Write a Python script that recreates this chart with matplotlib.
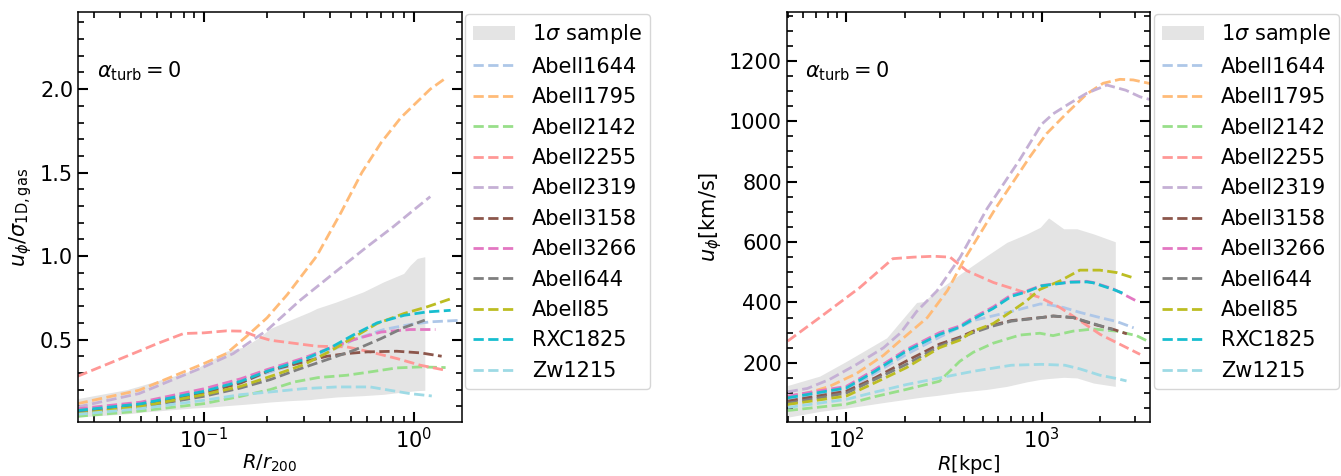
import matplotlib
matplotlib.use("Agg")
import matplotlib.pyplot as plt
from matplotlib.ticker import MultipleLocator

names = ["Abell1644", "Abell1795", "Abell2142", "Abell2255", "Abell2319",
         "Abell3158", "Abell3266", "Abell644", "Abell85", "RXC1825", "Zw1215"]
colors = ["#aec7e8", "#ffbb78", "#98df8a", "#ff9896", "#c5b0d5",
          "#8c564b", "#e377c2", "#7f7f7f", "#bcbd22", "#17becf", "#9edae5"]

# ---------------- left panel: u_phi / sigma_1D,gas vs R/r200 ----------------
a1644_lx = [0.025, 0.05, 0.1, 0.15, 0.2, 0.3, 0.4, 0.52, 0.72, 0.96, 1.2, 1.72]
a1644_ly = [0.072, 0.11, 0.185, 0.245, 0.30, 0.37, 0.43, 0.50, 0.56, 0.59, 0.606, 0.616]
a1795_lx = [0.025, 0.049, 0.1, 0.128, 0.16, 0.2, 0.25, 0.345, 0.45, 0.566, 0.7, 0.87, 1.2, 1.4]
a1795_ly = [0.116, 0.196, 0.356, 0.416, 0.52, 0.63, 0.77, 1.0, 1.26, 1.5, 1.68, 1.83, 2.0, 2.06]
a2142_lx = [0.025, 0.05, 0.1, 0.15, 0.207, 0.27, 0.35, 0.48, 0.62, 0.83, 1.08, 1.42]
a2142_ly = [0.04, 0.072, 0.116, 0.16, 0.2, 0.246, 0.272, 0.286, 0.306, 0.33, 0.336, 0.332]
a2255_lx = [0.025, 0.046, 0.06, 0.08, 0.1, 0.128, 0.154, 0.172, 0.207, 0.345, 0.48, 0.62, 0.833, 1.077, 1.42]
a2255_ly = [0.28, 0.416, 0.476, 0.536, 0.54, 0.552, 0.55, 0.526, 0.496, 0.46, 0.456, 0.426, 0.386, 0.346, 0.316]
a2319_lx = [0.025, 0.049, 0.1, 0.138, 0.2, 0.288, 0.415, 0.6, 0.8, 1.0, 1.2]
a2319_ly = [0.096, 0.176, 0.336, 0.416, 0.556, 0.736, 0.896, 1.056, 1.176, 1.276, 1.356]
a3158_lx = [0.025, 0.05, 0.1, 0.15, 0.207, 0.3, 0.386, 0.48, 0.6, 0.83, 1.08, 1.36]
a3158_ly = [0.066, 0.105, 0.18, 0.24, 0.316, 0.366, 0.40, 0.416, 0.426, 0.43, 0.42, 0.40]
a3266_lx = [0.025, 0.05, 0.1, 0.15, 0.2, 0.3, 0.4, 0.52, 0.7, 0.96, 1.27]
a3266_ly = [0.085, 0.125, 0.205, 0.265, 0.32, 0.39, 0.45, 0.50, 0.545, 0.56, 0.56]
a644_lx = [0.025, 0.05, 0.1, 0.15, 0.207, 0.28, 0.4, 0.52, 0.7, 0.9, 1.13]
a644_ly = [0.06, 0.095, 0.16, 0.21, 0.26, 0.32, 0.386, 0.436, 0.506, 0.572, 0.616]
a85_lx = [0.025, 0.05, 0.1, 0.15, 0.22, 0.3, 0.4, 0.52, 0.67, 0.9, 1.16, 1.55]
a85_ly = [0.055, 0.1, 0.17, 0.22, 0.29, 0.35, 0.43, 0.515, 0.596, 0.656, 0.696, 0.75]
rxc1825_lx = [0.025, 0.05, 0.1, 0.15, 0.2, 0.3, 0.4, 0.52, 0.67, 0.9, 1.15, 1.5]
rxc1825_ly = [0.075, 0.115, 0.19, 0.25, 0.31, 0.38, 0.45, 0.53, 0.60, 0.645, 0.665, 0.675]
zw1215_lx = [0.025, 0.05, 0.1, 0.15, 0.207, 0.3, 0.43, 0.62, 0.77, 0.96, 1.22]
zw1215_ly = [0.052, 0.086, 0.136, 0.17, 0.186, 0.206, 0.216, 0.216, 0.196, 0.176, 0.162]

band_lx = [0.025, 0.043, 0.052, 0.089, 0.108, 0.128, 0.156, 0.185, 0.207, 0.257, 0.32, 0.345,
           0.43, 0.576, 0.72, 0.896, 0.964, 1.04, 1.13]
band_l_hi = [0.146, 0.2, 0.23, 0.316, 0.376, 0.43, 0.456, 0.516, 0.566, 0.616, 0.666, 0.686,
             0.726, 0.786, 0.846, 0.896, 0.946, 0.986, 0.996]
band_l_lo = [0.036, 0.055, 0.066, 0.09, 0.096, 0.104, 0.112, 0.12, 0.126, 0.134, 0.14, 0.145,
             0.156, 0.164, 0.172, 0.186, 0.19, 0.194, 0.196]

# ---------------- right panel: u_phi [km/s] vs R [kpc] ----------------
a1644_rx = [50, 100, 140, 203, 300, 447, 700, 985, 1100, 1300, 1572, 1990, 2423, 2966]
a1644_ry = [78, 112, 165, 228, 285, 340, 370, 395, 392, 383, 367, 350, 337, 316]
a1795_rx = [50, 63, 82, 113, 155, 190, 260, 330, 400, 587, 871, 1061, 1343, 1702, 2070, 2523, 2950, 3600]
a1795_ry = [88, 100, 122, 165, 225, 275, 350, 440, 540, 716, 882, 959, 1026, 1090, 1126, 1139, 1137, 1125]
a2142_rx = [50, 100, 140, 203, 300, 381, 447, 565, 775, 980, 1146, 1452, 1840, 2423, 3070, 3600]
a2142_ry = [42, 63, 88, 112, 139, 205, 235, 265, 292, 298, 290, 305, 312, 305, 290, 268]
a2255_rx = [50, 73, 117, 173, 220, 280, 340, 414, 567, 777, 985, 1245, 1578, 2000, 2530, 3200]
a2255_ry = [272, 350, 449, 545, 550, 553, 550, 505, 466, 438, 416, 383, 339, 294, 261, 228]
a2319_rx = [50, 63, 82, 113, 155, 190, 229, 291, 383, 525, 777, 1000, 1148, 1400, 1706, 2163, 2700, 3200, 3600]
a2319_ry = [104, 115, 145, 195, 250, 300, 370, 438, 550, 710, 875, 990, 1025, 1060, 1093, 1120, 1103, 1081, 1072]
a3158_rx = [50, 100, 140, 203, 300, 381, 447, 565, 700, 1000, 1148, 1452, 1840, 2330, 2737]
a3158_ry = [73, 106, 150, 206, 262, 285, 305, 325, 340, 350, 355, 350, 328, 311, 296]
a3266_rx = [50, 100, 140, 203, 300, 381, 447, 565, 700, 837, 1000, 1400, 1706, 1840, 2330, 3020]
a3266_ry = [90, 122, 178, 244, 300, 322, 350, 385, 425, 438, 456, 468, 470, 466, 445, 407]
a644_rx = [50, 100, 140, 203, 300, 447, 565, 700, 1000, 1148, 1452, 1840, 2330]
a644_ry = [66, 100, 145, 195, 255, 300, 322, 338, 350, 355, 350, 330, 310]
a85_rx = [50, 100, 140, 203, 300, 381, 447, 565, 700, 837, 980, 1241, 1572, 1990, 2423, 3008]
a85_ry = [62, 90, 134, 184, 250, 275, 305, 330, 370, 405, 443, 471, 507, 507, 499, 480]
rxc1825_rx = [50, 100, 140, 203, 300, 381, 447, 565, 700, 837, 1000, 1400, 1706, 1840, 2330, 2630]
rxc1825_ry = [84, 117, 172, 239, 294, 318, 345, 380, 420, 435, 455, 467, 468, 465, 443, 430]
zw1215_rx = [50, 100, 140, 203, 300, 447, 700, 1000, 1318, 1572, 1990, 2426, 2726]
zw1215_ry = [52, 79, 103, 128, 150, 172, 192, 195, 192, 180, 159, 148, 140]

band_rx = [50, 73, 100, 161, 229, 248, 291, 383, 525, 664, 841, 985, 1087, 1298, 1518, 1848, 2388]
band_r_hi = [125, 156, 205, 283, 400, 403, 438, 494, 555, 599, 627, 649, 680, 644, 644, 627, 601]
band_r_lo = [20, 39, 50, 70, 84, 87, 92, 103, 112, 122, 137, 145, 148, 152, 150, 133, 122]

left_x = [a1644_lx, a1795_lx, a2142_lx, a2255_lx, a2319_lx, a3158_lx,
          a3266_lx, a644_lx, a85_lx, rxc1825_lx, zw1215_lx]
left_y = [a1644_ly, a1795_ly, a2142_ly, a2255_ly, a2319_ly, a3158_ly,
          a3266_ly, a644_ly, a85_ly, rxc1825_ly, zw1215_ly]
right_x = [a1644_rx, a1795_rx, a2142_rx, a2255_rx, a2319_rx, a3158_rx,
           a3266_rx, a644_rx, a85_rx, rxc1825_rx, zw1215_rx]
right_y = [a1644_ry, a1795_ry, a2142_ry, a2255_ry, a2319_ry, a3158_ry,
           a3266_ry, a644_ry, a85_ry, rxc1825_ry, zw1215_ry]

FS = 15
plt.rcParams['font.family'] = ['DejaVu Sans']
plt.rcParams['mathtext.fontset'] = 'dejavusans'

W, H = 1341, 476
fig = plt.figure(figsize=(W / 100, H / 100), dpi=100)
axL = fig.add_axes([78 / W, 1 - 422 / H, 384 / W, 410 / H])
axR = fig.add_axes([787 / W, 1 - 422 / H, 363 / W, 410 / H])

def style(ax):
    ax.set_xscale('log')
    ax.tick_params(which='both', direction='in', top=True, right=True, labelsize=FS)
    ax.tick_params(which='major', length=7, width=1.5)
    ax.tick_params(which='minor', length=4, width=1.2)
    for s in ax.spines.values():
        s.set_linewidth(1.1)

# left
axL.fill_between(band_lx, band_l_lo, band_l_hi, color='#e4e4e4', lw=0, label=r'1$\sigma$ sample')
for xs, ys, c, n in zip(left_x, left_y, colors, names):
    axL.plot(xs, ys, ls='--', color=c, lw=2, label=n)
style(axL)
axL.set_xlim(0.0251, 1.70)
axL.set_ylim(0.006, 2.462)
axL.yaxis.set_major_locator(MultipleLocator(0.5))
axL.yaxis.set_minor_locator(MultipleLocator(0.1))
axL.set_xlabel(r'$R/r_{200}$', fontsize=14, labelpad=0.5)
axL.set_ylabel(r'$u_{\phi}/\sigma_{\rm 1D,gas}$', fontsize=FS)
axL.text(0.05, 0.855, r'$\alpha_{\rm turb}=0$', transform=axL.transAxes, fontsize=FS,
         va='center', ha='left')
axL.legend(loc='upper left', bbox_to_anchor=(465 / W, 1 - 14 / H), bbox_transform=fig.transFigure,
           borderaxespad=0, fontsize=FS)

# right
axR.fill_between(band_rx, band_r_lo, band_r_hi, color='#e4e4e4', lw=0, label=r'1$\sigma$ sample')
for xs, ys, c, n in zip(right_x, right_y, colors, names):
    axR.plot(xs, ys, ls='--', color=c, lw=2, label=n)
style(axR)
axR.set_xlim(49.6, 3597)
axR.set_ylim(4, 1362)
axR.yaxis.set_major_locator(MultipleLocator(200))
axR.yaxis.set_minor_locator(MultipleLocator(50))
axR.set_xlabel(r'$R[\rm kpc]$', fontsize=14, labelpad=0.5)
axR.set_ylabel(r'$u_{\phi}[\rm km/s]$', fontsize=FS)
axR.text(0.05, 0.855, r'$\alpha_{\rm turb}=0$', transform=axR.transAxes, fontsize=FS,
         va='center', ha='left')
axR.legend(loc='upper left', bbox_to_anchor=(1154 / W, 1 - 14 / H), bbox_transform=fig.transFigure,
           borderaxespad=0, fontsize=FS)

fig.savefig('out.png', dpi=100)
